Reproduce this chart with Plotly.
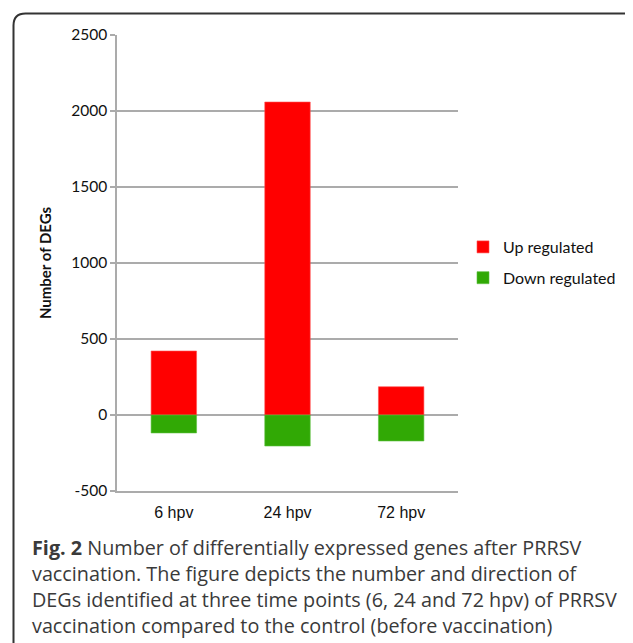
import plotly.graph_objects as go

# data
timepoints = ["6 hpv", "24 hpv", "72 hpv"]
up_regulated = [421, 2059, 186]
down_regulated = [-118, -204, -171]
y_ticks = [-500, 0, 500, 1000, 1500, 2000, 2500]
y_tick_text = ["-500", "0", "500", "1000", "1500", "2000", "2500"]

caption_lines = [
    "<b>Fig. 2</b> Number of differentially expressed genes after PRRSV",
    "vaccination. The figure depicts the number and direction of",
    "DEGs identified at three time points (6, 24 and 72 hpv) of PRRSV",
    "vaccination compared to the control (before vaccination)",
]

W, H = 633, 643
OFF = 8  # page body margin: the figure starts 8px in from the window corner
# plot area as seen in the window
L, R, T, B = 117, 458, 35, 491
GRID = '#ababab'


def xp(px):
    return (px - L) / (R - L)


def yp(py):
    return (B - py) / (B - T)


fig = go.Figure()
fig.add_trace(go.Bar(
    x=timepoints, y=up_regulated, name="Up regulated",
    marker=dict(color='#ff0000', line=dict(color='#ff5050', width=0.6)),
    width=0.4, legendgroup='up',
))
fig.add_trace(go.Bar(
    x=timepoints, y=down_regulated, name="Down regulated",
    marker=dict(color='#31a905', line=dict(color='#5cc040', width=0.6)),
    width=0.4, legendgroup='down',
))

# rounded frame around the figure panel (right side runs off the page)
x0, x1 = xp(13.5), xp(643)
y0, y1 = yp(13.5), yp(680)
rx, ry = 12 / (R - L), 12 / (B - T)
frame = (f"M{x0},{y1} L{x0},{y0 - ry} Q{x0},{y0} {x0 + rx},{y0} "
         f"L{x1 - rx},{y0} Q{x1},{y0} {x1},{y0 - ry} L{x1},{y1}")

annotations = []
for i, line in enumerate(caption_lines):
    annotations.append(dict(
        text=line, xref='paper', yref='paper', x=xp(30), y=yp(547 + 26 * i),
        xanchor='left', yanchor='middle', showarrow=False,
        font=dict(family='Open Sans', size=19.8, color='#3a3a3a'),
    ))

fig.update_layout(
    width=W, height=H, autosize=False,
    margin=dict(l=L - OFF, r=W - (R - OFF), t=T - OFF, b=H - (B - OFF),
                pad=0, autoexpand=False),
    paper_bgcolor='white', plot_bgcolor='white',
    barmode='relative',
    xaxis=dict(
        showline=True, linecolor=GRID, linewidth=1.5,
        showgrid=False, ticks='', ticklabelstandoff=6,
        tickfont=dict(family='Liberation Sans', size=16, color='#111'),
    ),
    yaxis=dict(
        range=[-500, 2500], tickvals=y_ticks, ticktext=y_tick_text,
        showline=True, linecolor=GRID, linewidth=1.5,
        showgrid=True, gridcolor=GRID, gridwidth=1.5,
        zeroline=False,
        ticks='outside', ticklen=5, tickcolor=GRID, tickwidth=1.5,
        tickfont=dict(family='Lato', size=15.5, color='#111'),
        title=dict(text="<b>Number of DEGs</b>", standoff=16,
                   font=dict(family='Lato', size=15, color='#111')),
    ),
    legend=dict(
        x=xp(463), y=yp(230), xanchor='left', yanchor='top',
        traceorder='grouped', tracegroupgap=7, itemwidth=30,
        font=dict(family='Lato', size=16, color='#111'),
        bgcolor='rgba(0,0,0,0)',
    ),
    shapes=[dict(type='path', path=frame, xref='paper', yref='paper',
                 line=dict(color='#333', width=2))],
    annotations=annotations,
)

fig.write_html("out.html", config={'displayModeBar': False})
